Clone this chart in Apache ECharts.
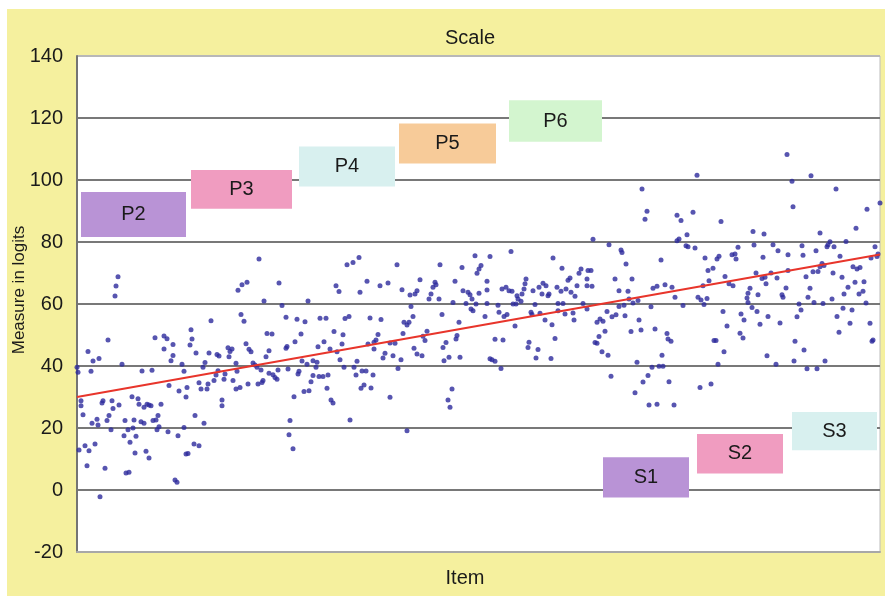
<!DOCTYPE html>
<html>
<head>
<meta charset="utf-8">
<script src="https://cdn.jsdelivr.net/npm/echarts@6/dist/echarts.min.js"></script>
<style>
html,body{margin:0;padding:0;background:#fff;}
#bg{position:absolute;left:7px;top:9px;width:878px;height:587px;background:#f5f09e;}
#main{position:absolute;left:0;top:0;width:885px;height:596px;}
</style>
</head>
<body>
<div id="bg"></div>
<div id="main"></div>
<script>
// ---- data (item position, measure in logits) ----
const pointsA = [[41,68.8],[39,65.8],[38,62.6],[31,48.4],[11,44.7],[16,41.6],[22,42.4],[14,38.3],[0,39.6],[1,38],[45,40.6],[78,49.1],[87,49.7],[90,48.8],[87,45.5],[96,46.9],[96,43.4],[94,41.7],[105,40.6],[107,38.3],[65,38.4],[75,38.6],[92,33.7],[102,31.9],[109,30],[4,28.8],[4,27.2],[6,24.3],[26,28.8],[25,28.1],[35,28.8],[36,26.3],[42,27.4],[32,24],[30,22.4],[34,19.4],[15,21.5],[20,22.8],[21,21],[55,30.1],[61,29.4],[62,27.7],[67,26.7],[70,27.7],[72,27.4],[74,27.2],[84,27.7],[81,24],[79,22.6],[48,22.4],[57,22.6],[64,22],[67,21.5],[76,22.4],[82,20.4],[80,19.4],[51,19.4],[56,20],[91,18.8],[101,17.5],[107,20.2],[47,17.5],[59,17.3],[53,15.4],[2,12.9],[8,14.3],[12,12.7],[18,14.8],[58,11.9],[69,12.5],[72,10.3],[10,7.8],[28,7],[49,5.5],[52,5.7],[98,3.2],[100,2.5],[23,-2.2],[109,11.6]];
const pointsB = [[182,74.5],[161,64.4],[165,66.2],[170,67],[202,66.8],[187,61],[205,59.5],[209,55.7],[164,56.6],[167,54.4],[134,54.6],[114,51.7],[115,48.7],[113,46.8],[190,50.5],[195,50.3],[119,44.2],[132,44.2],[140,43.7],[142,43.2],[151,45.9],[155,45.5],[153,44.7],[169,47.2],[172,45.4],[174,44.6],[192,44.9],[189,43],[210,46.3],[209,45.7],[152,43],[159,40.9],[160,38.3],[128,41.1],[126,39.6],[141,38.5],[139,37.1],[137,35.3],[148,37.4],[147,35.7],[176,41],[178,40.3],[180,39.6],[184,38.7],[186,35.3],[192,37.7],[196,37.2],[198,36.3],[200,35.7],[201,38.7],[211,39],[110,33.1],[122,34.6],[124,32.6],[130,32.6],[131,34.2],[145,29],[145,27.2],[156,35.3],[159,32.6],[163,33.1],[171,34.2],[181,34.2],[185,34.7],[118,24],[127,21.5],[117,14.8],[122,14.3],[111,11.8],[213,22.4],[212,17.8]];
const pointsC = [[270,72.7],[276,73.4],[282,75],[259,65.9],[262,64],[290,67.3],[283,63.8],[303,65.9],[311,66.8],[231,61],[220,55.1],[228,54.3],[243,55.4],[249,55.4],[268,55.3],[272,56],[293,55.5],[304,55],[224,50.3],[218,47.8],[257,51.1],[266,50.1],[301,50.2],[299,48.4],[297,47.7],[247,47.8],[241,46.2],[253,45.5],[260,44.6],[265,47.1],[291,47.1],[297,45.5],[308,44.1],[306,42.6],[225,41.6],[230,40.6],[236,41.7],[240,41.2],[263,42],[280,41.5],[239,39.6],[267,39.6],[277,39.6],[222,38.3],[221,37.4],[285,38.4],[289,38.4],[236,36.9],[234,34.9],[242,36.6],[246,36.6],[251,37.1],[279,37.1],[296,37.1],[227,31.8],[232,32],[250,32.8],[284,32.8],[287,33.9],[294,32.9],[217,30.1],[254,29],[256,28.1],[313,29.9],[216,13.3],[273,22.6]];
const pointsD = [[320,72.7],[363,72.7],[385,71.8],[398,75.6],[404,72.4],[402,71.3],[400,69.9],[413,75.3],[325,64.6],[343,67.8],[340,64.3],[338,63.2],[333,62.9],[358,67],[356,65.4],[354,63.2],[352,61.6],[359,66.2],[362,61.6],[378,67.3],[386,64.3],[391,63.8],[393,63],[395,61.6],[389,60.2],[394,58.4],[396,57.8],[402,63.5],[410,64.5],[410,60.2],[408,56],[376,60.5],[399,60],[334,59.2],[336,56],[327,54.1],[330,53.2],[332,54.1],[365,56.6],[382,54.1],[326,50.5],[346,49.6],[350,51.2],[348,48.2],[380,49.8],[379,48.7],[369,47.6],[366,46],[313,47.4],[318,47.3],[337,45.7],[340,43.9],[316,43.3],[324,42],[321,39.2],[345,43.3],[372,42.8],[367,41.7],[383,42.8],[413,42.3],[375,32.6],[371,29],[373,26.7],[330,19.1]];
const pointsE = [[434,76.9],[476,74.8],[485,71.5],[504,71.3],[502,69.9],[511,70.8],[449,68.1],[448,66.5],[447,64.8],[445,63.2],[440,62.7],[441,61.6],[444,60.9],[439,60],[436,60],[425,64.8],[429,65.4],[432,64.3],[435,64.1],[456,64.3],[462,65.4],[466,66.7],[469,65.9],[465,63.2],[471,62.7],[472,63.2],[480,65.4],[484,64.1],[489,64.8],[491,67.7],[493,68.4],[494,63.8],[498,62.5],[500,65.9],[510,65.9],[481,60.2],[486,60.2],[421,59.6],[458,59.8],[481,57.8],[506,60.2],[510,58.4],[488,56.8],[496,57.1],[497,54.8],[454,57.3],[455,56.6],[463,57],[422,57.3],[430,56.6],[427,56],[438,52.9],[468,54.8],[475,53.3],[418,48.6],[426,48.4],[452,47.7],[451,46],[478,48.9],[461,45.3],[459,42.6],[474,42.4],[415,42],[418,41.5],[424,39.2],[410,67.3]];
const pointsF = [[565,97.1],[570,89.9],[568,87.3],[600,88.6],[604,86.9],[610,82.3],[602,81],[600,80.4],[609,78.8],[611,78.5],[516,80.9],[532,79.1],[544,77.4],[545,76.6],[549,72.9],[584,74.2],[514,70.8],[515,65.7],[510,68.1],[538,68.1],[555,68.1],[542,64.3],[551,64.1],[576,65.1],[580,65.7],[588,66.2],[595,65.4],[552,61.6],[598,62.2],[606,59.5],[574,59.1],[556,60.3],[561,61.1],[530,57.6],[535,55.9],[539,56.5],[542,59.2],[547,59.6],[548,56.2],[520,54.1],[523,55.2],[526,54.4],[562,54.8],[528,51.2],[522,49.5],[518,47.6],[520,47.3],[554,51.1],[564,51.6],[578,51.9],[590,50.5],[591,48.7],[594,48],[525,44.6],[531,43.5],[585,43.5],[560,41.2],[575,39.6],[582,39.9],[586,39.9],[534,36.7],[571,36.9],[566,34.8],[592,34.9],[558,31.4],[572,27.4],[580,27.7],[597,27.4]];
const pointsG = [[710,108.2],[620,101.5],[616,89.6],[644,86.6],[676,83.4],[687,82.6],[618,78.1],[661,78.3],[677,79],[696,79.1],[701,77.2],[655,75.9],[658,76.1],[659,74.5],[628,74.8],[640,74.5],[642,75.4],[686,75.1],[711,75.9],[636,71.5],[631,70.8],[711,70.8],[679,70],[694,70],[688,68.6],[648,68.9],[632,67.5],[652,66.5],[656,65.9],[673,65.1],[671,63.5],[670,61.9],[671,60.5],[685,68.2],[689,66.5],[700,68.4],[626,65.9],[681,63],[709,65.2],[705,63],[706,62.2],[621,62.2],[624,61.3],[630,61.8],[627,59.8],[675,58.9],[680,57.6],[646,57.6],[664,56.8],[667,54.8],[691,56],[650,52.9],[683,53.5],[703,53.9],[663,50.6],[666,49],[637,48.2],[639,48.2],[647,44.6],[690,43.3],[641,40.6],[699,40.6],[623,33.1],[634,34.2]];
const pointsH = [[715,99.6],[734,101.4],[759,97.1],[716,91.4],[790,90.6],[803,92.6],[779,84.4],[743,82.9],[753,80.1],[751,79.1],[750,78.5],[757,78.5],[769,80.2],[725,78.8],[726,75.7],[739,77.2],[763,75.4],[798,78.5],[801,76.1],[800,75.3],[794,74.8],[745,73.1],[747,72.4],[743,72],[776,72],[780,71.3],[783,71.8],[736,70.4],[741,70.5],[756,70],[729,68.8],[765,68.6],[778,67],[787,67.2],[771,65.4],[733,65.1],[767,63.2],[782,63.2],[786,64.1],[731,62.2],[755,61.6],[737,60.5],[746,60.2],[722,60],[789,60.3],[766,58.6],[775,58.1],[724,58.1],[720,55.9],[760,56],[773,53.8],[793,53.8],[762,50.9],[795,48],[796,48.4],[718,48],[727,45.2],[717,41.6],[748,41.6],[730,39.1],[740,39.1]];

const trendLine = [[0, 30], [803, 76]];
const yTicks = [-20, 0, 20, 40, 60, 80, 100, 120, 140];

// annotation boxes: name, [x1, y1], [x2, y2]
const boxNames = ['P2', 'P3', 'P4', 'P5', 'P6', 'S1', 'S2', 'S3'];
const boxFrom = [[4, 81.6], [114, 90.7], [222, 97.9], [322, 105.3], [432, 112.3], [526, -2.4], [620, 5.3], [715, 12.8]];
const boxTo = [[109, 96.1], [215, 103.2], [318, 110.8], [419, 118.2], [525, 125.7], [612, 10.6], [706, 18.1], [800, 25.2]];
const boxColors = ['#b993d6', '#f09cc0', '#d8f0ef', '#f7cb99', '#d3f5cf', '#b993d6', '#f09cc0', '#d8f0ef'];

const allPoints = [].concat(pointsA, pointsB, pointsC, pointsD, pointsE, pointsF, pointsG, pointsH);

const chart = echarts.init(document.getElementById('main'), null, {renderer: 'canvas'});
const FONT = '"Liberation Sans", Arial, Helvetica, sans-serif';

chart.setOption({
  backgroundColor: 'transparent',
  animation: false,
  grid: {
    left: 77, top: 56, width: 803, height: 496,
    show: true, backgroundColor: '#ffffff', borderColor: '#bdbdbd', borderWidth: 1
  },
  xAxis: {
    type: 'value', min: 0, max: 803,
    axisLine: {show: true, onZero: false, lineStyle: {color: '#a8a8a8', width: 2}},
    axisTick: {show: false}, axisLabel: {show: false}, splitLine: {show: false}
  },
  yAxis: {
    type: 'value', min: yTicks[0], max: yTicks[yTicks.length - 1], interval: 20,
    axisLine: {show: true, lineStyle: {color: '#747474', width: 2}},
    axisTick: {show: false},
    axisLabel: {color: '#1a1a1a', fontSize: 20, fontFamily: FONT, margin: 14},
    splitLine: {show: true, lineStyle: {color: ['#a8a8a8', '#787878', '#787878', '#787878', '#787878', '#787878', '#787878', '#787878', '#b8b8b8'], width: 2}}
  },
  series: [
    {
      type: 'scatter',
      data: allPoints,
      symbol: 'circle',
      symbolSize: 5,
      itemStyle: {color: '#2d2a9c'},
      z: 3
    },
    {
      type: 'line',
      data: trendLine,
      symbol: 'none',
      lineStyle: {color: '#e8352b', width: 2},
      z: 4,
      markArea: {
        silent: true,
        label: {show: true, position: 'inside', color: '#1a1a1a', fontSize: 20, fontFamily: FONT},
        data: boxNames.map((n, i) => [
          {name: n, coord: boxFrom[i], itemStyle: {color: boxColors[i], opacity: 1}},
          {coord: boxTo[i]}
        ])
      }
    }
  ],
  graphic: [
    {type: 'text', x: 470, y: 38, style: {text: 'Scale', font: '20px ' + FONT, fill: '#1a1a1a', textAlign: 'center', textVerticalAlign: 'middle'}},
    {type: 'text', x: 465, y: 578, style: {text: 'Item', font: '20px ' + FONT, fill: '#1a1a1a', textAlign: 'center', textVerticalAlign: 'middle'}},
    {type: 'text', x: 19, y: 290, rotation: Math.PI / 2, style: {text: 'Measure in logits', font: '17px ' + FONT, fill: '#1a1a1a', textAlign: 'center', textVerticalAlign: 'middle'}}
  ]
});
</script>
</body>
</html>
